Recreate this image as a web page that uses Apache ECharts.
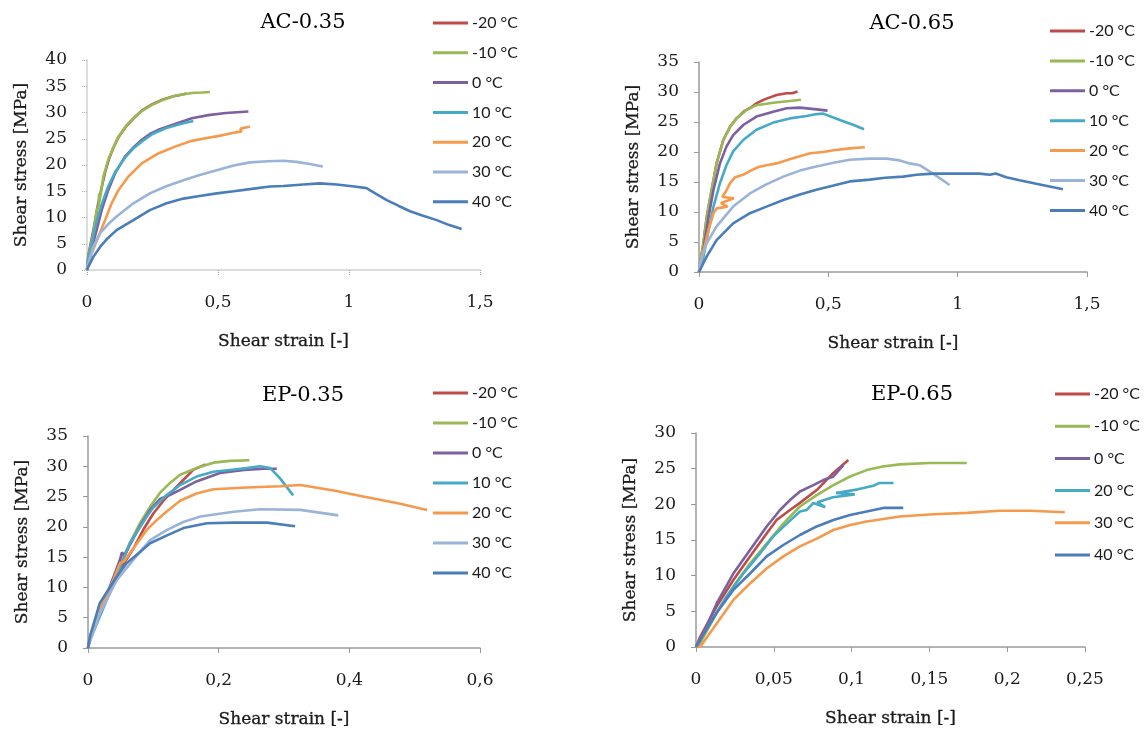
<!DOCTYPE html>
<html>
<head>
<meta charset="utf-8">
<title>Shear stress – shear strain curves</title>
<script src="https://cdn.jsdelivr.net/npm/echarts@6/dist/echarts.min.js"></script>
<style>
  html, body { margin: 0; padding: 0; background: #ffffff; }
  #chart { width: 1145px; height: 733px; }
</style>
</head>
<body>
<div id="chart"></div>
<script>
// ---- panel titles and legend labels ----
const panelTitles = ['AC-0.35', 'AC-0.65', 'EP-0.35', 'EP-0.65'];
const tempLabels = ['-20 °C', '-10 °C', '0 °C', '10 °C', '20 °C', '30 °C', '40 °C'];
const tempLabelsEP65 = ['-20 °C', '-10 °C', '0 °C', '20 °C', '30 °C', '40 °C'];

// ---- y-axis maxima and x-axis ranges per panel ----
const yMax = [40, 35, 35, 30];
const xMax = [1.5, 1.5, 0.6, 0.25];
const xStep = [0.5, 0.5, 0.2, 0.05];

// ---- AC-0.35: [shear strain, shear stress MPa] ----
const ac35_m20 = [[0,0],[0.005,2.8],[0.024,7.5],[0.04,12],[0.055,15.5],[0.07,18.8],[0.085,21.3],[0.1,23.2],[0.12,25.3],[0.15,27.4],[0.18,29],[0.21,30.4],[0.25,31.6],[0.29,32.5],[0.33,33.1],[0.36,33.4],[0.38,33.6]];
const ac35_m10 = [[0,0],[0.005,2.5],[0.024,7],[0.037,11.4],[0.045,12.3],[0.046,14.6],[0.047,12.9],[0.056,15.6],[0.062,17.7],[0.081,21],[0.1,23.3],[0.12,25.4],[0.15,27.5],[0.183,29.2],[0.21,30.3],[0.247,31.4],[0.29,32.4],[0.336,33.2],[0.4,33.7],[0.44,33.8],[0.469,33.9]];
const ac35_0 = [[0,0],[0.005,1.9],[0.03,6.3],[0.056,11.4],[0.081,15.2],[0.107,18.4],[0.145,21.6],[0.18,23.5],[0.209,24.8],[0.24,25.9],[0.272,26.7],[0.336,27.8],[0.4,28.9],[0.463,29.5],[0.53,29.9],[0.616,30.2]];
const ac35_10 = [[0,0],[0.005,2.2],[0.02,5.5],[0.035,9],[0.056,12.5],[0.08,15.8],[0.107,18.6],[0.145,21.4],[0.18,23.3],[0.21,24.5],[0.25,25.9],[0.3,27],[0.35,27.7],[0.38,28.1],[0.406,28.4]];
const ac35_20 = [[0,0],[0.005,1.3],[0.018,3.2],[0.043,6.3],[0.069,9.5],[0.094,12.7],[0.12,15.2],[0.158,17.8],[0.209,20.3],[0.272,22.2],[0.336,23.5],[0.4,24.6],[0.463,25.2],[0.5,25.5],[0.555,26.1],[0.59,26.4],[0.585,26.9],[0.6,27.1],[0.622,27.3]];
const ac35_30 = [[0,0],[0.005,1.3],[0.024,4.4],[0.05,7],[0.08,8.7],[0.113,10.2],[0.177,12.7],[0.24,14.6],[0.3,15.9],[0.368,17.1],[0.43,18.1],[0.495,19],[0.56,19.9],[0.622,20.5],[0.69,20.7],[0.749,20.8],[0.8,20.6],[0.85,20.2],[0.9,19.7]];
const ac35_40 = [[0,0],[0.005,0.6],[0.024,2.5],[0.05,4.4],[0.08,6.1],[0.113,7.6],[0.177,9.5],[0.24,11.4],[0.304,12.7],[0.368,13.6],[0.43,14.1],[0.495,14.6],[0.56,15],[0.622,15.4],[0.698,15.9],[0.749,16],[0.826,16.3],[0.889,16.5],[0.953,16.3],[1.02,15.9],[1.067,15.6],[1.1,14.6],[1.144,13.3],[1.19,12.2],[1.233,11.2],[1.28,10.4],[1.335,9.5],[1.38,8.6],[1.43,7.8]];

// ---- AC-0.65 ----
const ac65_m20 = [[0,0],[0.004,1.3],[0.017,4.8],[0.03,9.2],[0.049,13.7],[0.068,18.1],[0.094,22],[0.12,24.2],[0.145,25.6],[0.175,26.8],[0.203,27.5],[0.222,28.1],[0.245,28.6],[0.261,28.9],[0.3,29.5],[0.339,29.8],[0.36,29.8],[0.381,30.1]];
const ac65_m10 = [[0,0],[0.004,1.3],[0.017,4.8],[0.03,9.2],[0.049,13.7],[0.068,18.1],[0.094,22],[0.12,24.2],[0.145,25.6],[0.184,27],[0.222,27.8],[0.287,28.2],[0.351,28.5],[0.394,28.7]];
const ac65_0 = [[0,0],[0.01,1.4],[0.023,5.3],[0.037,9.2],[0.056,13.7],[0.081,18.1],[0.106,20.9],[0.132,22.8],[0.171,24.5],[0.222,25.9],[0.287,26.7],[0.339,27.3],[0.39,27.4],[0.455,27.1],[0.497,26.9]];
const ac65_10 = [[0,0],[0.017,2.5],[0.037,7],[0.056,10.9],[0.081,14.8],[0.106,17.8],[0.132,20.1],[0.171,22],[0.222,23.7],[0.287,24.9],[0.351,25.6],[0.416,26],[0.45,26.3],[0.48,26.4],[0.547,25.3],[0.598,24.5],[0.638,23.8]];
const ac65_20 = [[0,0],[0.004,1.3],[0.017,3.5],[0.037,7],[0.056,9.8],[0.068,10.6],[0.11,10.9],[0.085,11.5],[0.135,12.3],[0.09,12.5],[0.105,13.5],[0.12,14.8],[0.14,15.8],[0.17,16.2],[0.2,16.9],[0.23,17.5],[0.26,17.8],[0.3,18.1],[0.35,18.8],[0.4,19.4],[0.43,19.8],[0.48,20],[0.52,20.3],[0.583,20.6],[0.641,20.8]];
const ac65_30 = [[0,0],[0.004,1.4],[0.03,4.8],[0.068,7.6],[0.132,10.9],[0.197,13.1],[0.26,14.6],[0.326,15.9],[0.39,16.9],[0.454,17.6],[0.52,18.2],[0.583,18.7],[0.66,18.9],[0.725,18.9],[0.776,18.6],[0.815,18.1],[0.853,17.8],[0.905,16.4],[0.969,14.5]];
const ac65_40 = [[0,0],[0.004,0.3],[0.03,2.6],[0.068,5.3],[0.132,8.1],[0.197,9.8],[0.261,10.9],[0.326,12],[0.39,12.9],[0.454,13.7],[0.52,14.4],[0.583,15.1],[0.66,15.4],[0.72,15.7],[0.789,15.9],[0.841,16.2],[0.905,16.4],[1.0,16.4],[1.085,16.4],[1.124,16.2],[1.147,16.4],[1.188,15.8],[1.239,15.3],[1.304,14.7],[1.407,13.8]];

// ---- EP-0.35 ----
const ep35_m20 = [[0,0],[0.003,1.5],[0.018,5.8],[0.034,9.5],[0.049,13],[0.069,16.3],[0.085,19.6],[0.1,22.2],[0.116,24.4],[0.141,27.2],[0.161,29.4],[0.171,29.9],[0.18,30.3]];
const ep35_m10 = [[0,0],[0.003,1.9],[0.018,6.3],[0.034,10.1],[0.049,14],[0.064,17.3],[0.08,20.7],[0.095,23.3],[0.11,25.6],[0.126,27.3],[0.141,28.6],[0.166,29.7],[0.192,30.6],[0.217,30.9],[0.247,31]];
const ep35_0 = [[0,0],[0.003,1.5],[0.018,6],[0.034,10.3],[0.049,14.6],[0.052,15.8],[0.056,15.2],[0.064,17],[0.08,20.2],[0.095,22.8],[0.11,24.6],[0.126,25.3],[0.141,26.1],[0.166,27.5],[0.202,28.9],[0.239,29.4],[0.27,29.6],[0.289,29.6]];
const ep35_10 = [[0,0],[0.003,1.3],[0.039,10.6],[0.064,17.3],[0.09,21.7],[0.1,23.2],[0.12,25.2],[0.141,26.9],[0.166,28.3],[0.192,29.1],[0.217,29.4],[0.243,29.7],[0.263,30],[0.279,29.7],[0.294,28],[0.314,25.2]];
const ep35_20 = [[0,0],[0.003,1.9],[0.018,6.3],[0.034,10],[0.049,14],[0.055,14.3],[0.069,16.4],[0.09,19.5],[0.105,21.1],[0.12,22.5],[0.141,24.3],[0.166,25.5],[0.192,26.2],[0.243,26.5],[0.294,26.7],[0.325,26.9],[0.376,26],[0.427,24.9],[0.478,23.8],[0.519,22.8]];
const ep35_30 = [[0,0],[0.003,1],[0.018,5.7],[0.044,11.2],[0.069,14.5],[0.095,17.8],[0.121,19.5],[0.146,20.8],[0.172,21.7],[0.223,22.5],[0.263,22.9],[0.325,22.8],[0.383,21.9]];
const ep35_40 = [[0,0],[0.003,1.9],[0.018,7.4],[0.044,11.8],[0.059,14],[0.08,15.9],[0.095,17.3],[0.121,18.6],[0.146,19.8],[0.182,20.6],[0.223,20.7],[0.274,20.7],[0.317,20.1]];

// ---- EP-0.65 ----
const ep65_m20 = [[0,0],[0.0026,1.4],[0.0133,5.7],[0.024,9.4],[0.0347,12.7],[0.0454,15.9],[0.0518,17.8],[0.0604,19.2],[0.0668,20.2],[0.0776,22],[0.0883,24.4],[0.0979,26.2]];
const ep65_m10 = [[0,0],[0.0026,0.5],[0.0133,4.8],[0.024,8.5],[0.0347,11.7],[0.0454,14.5],[0.0561,17.3],[0.0668,19.7],[0.0776,21.3],[0.0883,22.7],[0.099,23.9],[0.1097,24.8],[0.12,25.3],[0.131,25.6],[0.15,25.8],[0.174,25.8]];
const ep65_0 = [[0,0],[0.0026,0.9],[0.0133,6.1],[0.024,10.3],[0.0347,13.6],[0.0454,16.9],[0.054,19.2],[0.0604,20.6],[0.0668,21.8],[0.0754,22.7],[0.0818,23.4],[0.0883,23.9],[0.0947,25.5]];
const ep65_20 = [[0,0],[0.0026,1],[0.009,3.3],[0.0197,7.1],[0.0304,10.3],[0.0411,13.1],[0.0497,15.5],[0.0583,17.3],[0.0668,19],[0.0711,19.2],[0.0754,20.2],[0.083,19.6],[0.078,20.3],[0.088,21],[0.102,21.4],[0.09,21.6],[0.104,22.1],[0.114,22.6],[0.118,23],[0.127,23]];
const ep65_30 = [[0,0],[0.0026,0],[0.0133,3.3],[0.024,6.6],[0.0347,8.9],[0.0454,11],[0.0561,12.7],[0.0668,14.1],[0.0776,15.2],[0.0883,16.4],[0.099,17.1],[0.1097,17.6],[0.131,18.3],[0.1525,18.6],[0.174,18.8],[0.195,19.1],[0.2147,19.1],[0.237,18.9]];
const ep65_40 = [[0,0],[0.0026,1],[0.0133,4.8],[0.024,8],[0.0347,10.3],[0.0454,12.7],[0.0561,14.3],[0.0668,15.7],[0.0776,16.9],[0.0883,17.8],[0.099,18.5],[0.1097,19],[0.1204,19.5],[0.1332,19.5]];

// ---- line colours ----
const C = {
  m20: '#BE4B48', m10: '#98B954', t0: '#7D60A0', t10: '#46AAC5',
  t20: '#F59A4C', t30: '#9AB3D8', t40: '#4A7EBB'
};

const panels = [
  { labels: tempLabels,
    data: [ac35_m20, ac35_m10, ac35_0, ac35_10, ac35_20, ac35_30, ac35_40],
    colors: [C.m20, C.m10, C.t0, C.t10, C.t20, C.t30, C.t40] },
  { labels: tempLabels,
    data: [ac65_m20, ac65_m10, ac65_0, ac65_10, ac65_20, ac65_30, ac65_40],
    colors: [C.m20, C.m10, C.t0, C.t10, C.t20, C.t30, C.t40] },
  { labels: tempLabels,
    data: [ep35_m20, ep35_m10, ep35_0, ep35_10, ep35_20, ep35_30, ep35_40],
    colors: [C.m20, C.m10, C.t0, C.t10, C.t20, C.t30, C.t40] },
  { labels: tempLabelsEP65,
    data: [ep65_m20, ep65_m10, ep65_0, ep65_20, ep65_30, ep65_40],
    colors: [C.m20, C.m10, C.t0, C.t10, C.t20, C.t40] }
];

// ---- layout ----
const grids = [
  { left: 87,  top: 60,  width: 393, height: 210 },
  { left: 699, top: 62,  width: 388, height: 210 },
  { left: 88,  top: 436, width: 392, height: 212 },
  { left: 696, top: 433, width: 389, height: 214 }
];
const titlePos = [[303, 23], [912, 24], [303, 396], [912, 395]];
const legendPos = [
  { left: 433,  top: 14,  gap: 11.8 },
  { left: 1050, top: 22,  gap: 11.9 },
  { left: 433,  top: 384, gap: 12 },
  { left: 1055, top: 385, gap: 14.2 }
];

const serif = '"DejaVu Serif", serif';
const ink = '#1a1a1a';
const fmtNum = v => String(Number(v.toFixed(4))).replace('.', ',');

const xAxes = [], yAxes = [], series = [], legends = [], graphics = [];

panels.forEach((p, i) => {
  const faint = i === 0; // first panel uses pale axes with dotted ticks
  const axisColor = faint ? '#d2d2d2' : '#9a9a9a';
  const tickStyle = faint
    ? { show: true, length: 5, lineStyle: { color: '#a8a8a8', type: 'dotted', width: 1 } }
    : { show: true, length: 5, lineStyle: { color: axisColor, width: 1 } };
  const nameStyle = { color: ink, fontFamily: serif, fontSize: 17,
                      textBorderColor: ink, textBorderWidth: 0.3 };

  xAxes.push({
    type: 'value', gridIndex: i, min: 0, max: xMax[i], interval: xStep[i],
    axisLine: { show: true, onZero: false, lineStyle: { color: axisColor, width: 1.5 } },
    axisTick: tickStyle,
    splitLine: { show: false },
    axisLabel: { color: ink, fontFamily: serif, fontSize: 17, margin: 24, formatter: fmtNum },
    name: 'Shear strain [-]', nameLocation: 'middle', nameGap: 63,
    nameTextStyle: nameStyle
  });
  yAxes.push({
    type: 'value', gridIndex: i, min: 0, max: yMax[i], interval: 5,
    axisLine: { show: true, onZero: false, lineStyle: { color: axisColor, width: 1.5 } },
    axisTick: tickStyle,
    splitLine: { show: false },
    axisLabel: { color: ink, fontFamily: serif, fontSize: 17, margin: 20 },
    name: 'Shear stress [MPa]', nameLocation: 'middle', nameGap: 57,
    nameTextStyle: nameStyle
  });

  const names = p.labels.map(l => panelTitles[i] + '|' + l);
  p.data.forEach((d, k) => {
    series.push({
      type: 'line', name: names[k], xAxisIndex: i, yAxisIndex: i,
      data: d, showSymbol: false, symbol: 'none', smooth: false,
      lineStyle: { color: p.colors[k], width: 2.6 },
      itemStyle: { color: p.colors[k] },
      emphasis: { disabled: true }, silent: true
    });
  });

  legends.push({
    data: names, orient: 'vertical', left: legendPos[i].left, top: legendPos[i].top,
    padding: 0, itemGap: legendPos[i].gap, itemWidth: 35, itemHeight: 3, icon: 'rect',
    selectedMode: false,
    formatter: n => n.split('|')[1],
    textStyle: { color: ink, fontFamily: 'Lato, sans-serif', fontSize: 16, lineHeight: 18, padding: [0, 0, 0, -1] }
  });

  graphics.push({
    type: 'text', x: titlePos[i][0], y: titlePos[i][1],
    style: { text: panelTitles[i], fill: '#000', fontFamily: serif, fontSize: 21,
             align: 'center', verticalAlign: 'middle' }
  });
});

const chart = echarts.init(document.getElementById('chart'), null, { renderer: 'canvas' });
chart.setOption({
  animation: false,
  backgroundColor: '#ffffff',
  grid: grids,
  xAxis: xAxes,
  yAxis: yAxes,
  legend: legends,
  series: series,
  graphic: graphics
});
</script>
</body>
</html>
